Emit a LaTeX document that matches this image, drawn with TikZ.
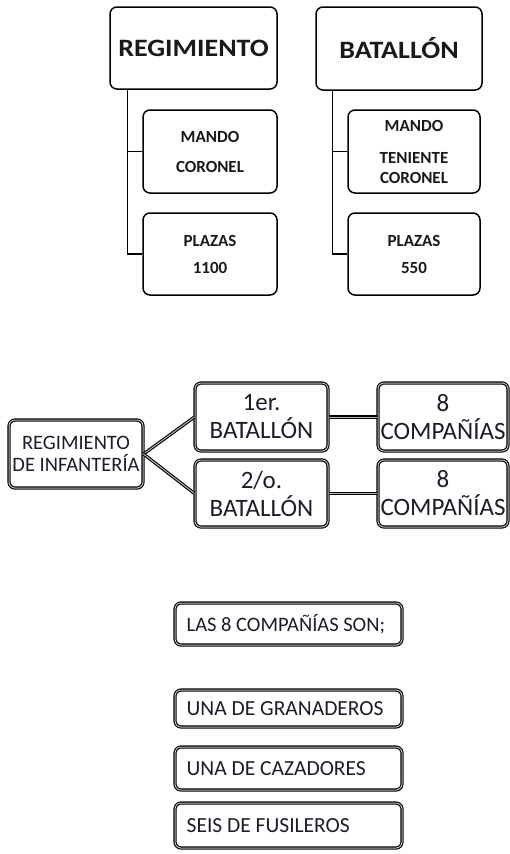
\documentclass[tikz,border=0pt]{standalone}
\usepackage{fontspec}
\setmainfont{Carlito}
\definecolor{txt}{RGB}{28,28,40}
\definecolor{toptxt}{RGB}{25,25,25}
\begin{document}
\begin{tikzpicture}[x=1pt,y=-1pt,
  topbox/.style={draw=black, line width=1.5pt, rounded corners=7pt, inner sep=0pt, align=center, text=toptxt},
  dbox/.style={draw=black, line width=1.1pt, double=gray!55, double distance=1pt, rounded corners=6pt, inner sep=0pt, align=center, text=txt},
  dline/.style={draw=black, line width=1.1pt, double=gray!55, double distance=1pt},
  tline/.style={draw=black, line width=1.5pt},
  listbox/.style={dbox, minimum width=227pt},
  listtext/.style={anchor=west, inner sep=0pt, text=txt, font=\fontsize{21.5}{24}\selectfont}]
\useasboundingbox (0,0) rectangle (510,854);

% top left
\node[topbox, minimum width=167pt, minimum height=82pt, font=\bfseries\fontsize{25}{28}\selectfont] (reg) at (193.5,48) {\scalebox{1.12}[1]{REGIMIENTO}};
\node[topbox, minimum width=134pt, minimum height=83pt, font=\bfseries\fontsize{17}{30}\selectfont] (rm) at (210,151.5) {MANDO\\CORONEL};
\node[topbox, minimum width=134pt, minimum height=82pt, font=\bfseries\fontsize{17}{27}\selectfont] (rp) at (210,254) {PLAZAS\\1100};
\draw[tline] ([xshift=18pt]reg.south west) |- (rm.west);
\draw[tline] ([xshift=18pt]reg.south west) |- (rp.west);

% top right
\node[topbox, minimum width=166pt, minimum height=83pt, font=\bfseries\fontsize{25}{28}\selectfont] (bat) at (399,48.5) {\scalebox{1.12}[1]{BATALLÓN}};
\node[topbox, minimum width=132pt, minimum height=83pt, font=\bfseries\fontsize{17}{20}\selectfont] (bm) at (414,151.5) {MANDO\\[12pt]TENIENTE\\CORONEL};
\node[topbox, minimum width=132pt, minimum height=82pt, font=\bfseries\fontsize{17}{27}\selectfont] (bp) at (414,254) {PLAZAS\\550};
\draw[tline] ([xshift=17pt]bat.south west) |- (bm.west);
\draw[tline] ([xshift=17pt]bat.south west) |- (bp.west);

% middle
\node[dbox, minimum width=134pt, minimum height=68pt, font=\fontsize{20.5}{22}\selectfont] (ri) at (76,454) {REGIMIENTO\\DE INFANTERÍA};
\node[dbox, minimum width=133pt, minimum height=68pt, font=\fontsize{25}{28}\selectfont] (b1) at (261.5,417) {1er.\\BATALLÓN};
\node[dbox, minimum width=133pt, minimum height=67pt, font=\fontsize{25}{28}\selectfont] (b2) at (261.5,493.5) {2/o.\\BATALLÓN};
\node[dbox, minimum width=130pt, minimum height=68pt, font=\fontsize{25}{28}\selectfont] (c1) at (443,417) {8\\COMPAÑÍAS};
\node[dbox, minimum width=130pt, minimum height=67pt, font=\fontsize{25}{28}\selectfont] (c2) at (443,493.5) {8\\COMPAÑÍAS};
\draw[dline] (ri.east) -- (b1.west);
\draw[dline] (ri.east) -- (b2.west);
\draw[dline] (b1.east) -- (c1.west);
\draw[dline] (b2.east) -- (c2.west);

% bottom
\node[listbox, minimum height=42pt] (l8) at (288.5,624) {};
\node[listtext, font=\fontsize{20.5}{24}\selectfont] (l8t) at ([xshift=12pt]l8.west) {LAS 8 COMPAÑÍAS SON;};
\node[listbox, minimum height=37pt] (gr) at (288.5,708.5) {};
\node[listtext] (grt) at ([xshift=12pt]gr.west) {UNA DE GRANADEROS};
\node[listbox, minimum height=43pt] (cz) at (288.5,768.5) {};
\node[listtext] (czt) at ([xshift=12pt]cz.west) {UNA DE CAZADORES};
\node[listbox, minimum height=45pt] (fu) at (288.5,825.5) {};
\node[listtext] (fut) at ([xshift=12pt]fu.west) {SEIS DE FUSILEROS};
\end{tikzpicture}
\end{document}
